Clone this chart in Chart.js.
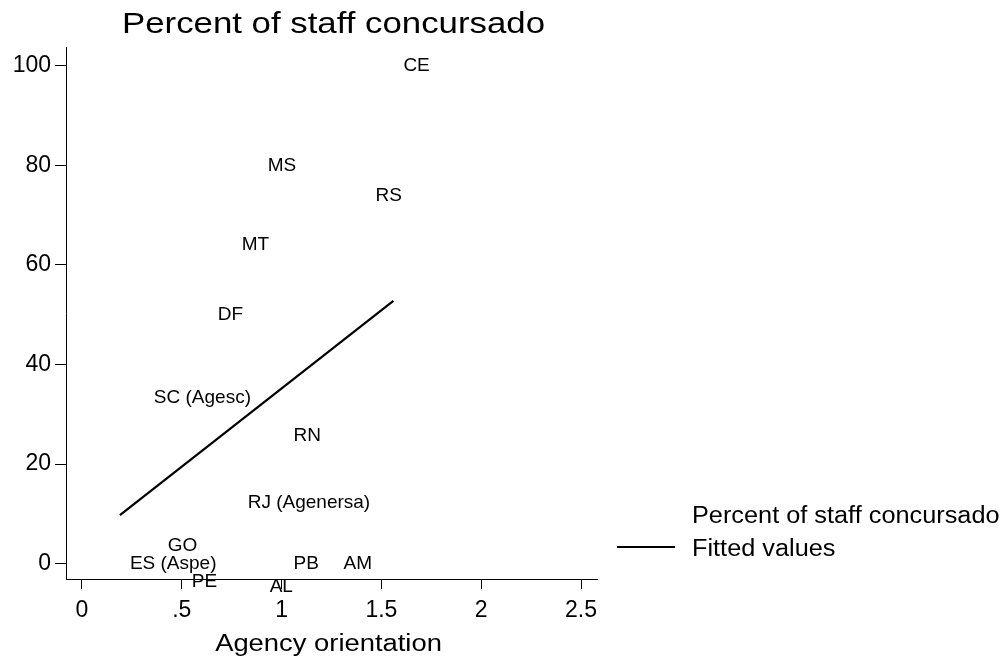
<!DOCTYPE html>
<html>
<head>
<meta charset="utf-8">
<script src="https://cdn.jsdelivr.net/npm/chart.js@4"></script>
<style>
  body { margin: 0; background: #fff; }
  #wrap { width: 1005px; height: 666px; }
</style>
</head>
<body>
<div id="wrap"><canvas id="myChart" width="1005" height="666"></canvas></div>
<script>
// states and their (agency orientation, % staff concursado)
var states = ['CE', 'MS', 'RS', 'MT', 'DF', 'SC (Agesc)', 'RN', 'RJ (Agenersa)', 'GO', 'ES (Aspe)', 'PE', 'PB', 'AM', 'AL'];
var orientation = [1.56, 0.88, 1.42, 0.75, 0.63, 0.31, 1.01, 0.78, 0.38, 0.19, 0.50, 1.01, 1.26, 0.89];
var concursado = [100, 80, 74, 64, 50, 33.3, 25.6, 12.2, 3.5, 0, -3.7, 0, 0, -4.7];

// linear fit, endpoints
var fitX = [0.19, 1.56];
var fitY = [9.75, 52.8];

var xTicks = [0, 0.5, 1, 1.5, 2, 2.5];
var yTicks = [0, 20, 40, 60, 80, 100];

var font = '"Liberation Sans", Arial, sans-serif';

var scatterData = states.map(function (s, i) {
    return { x: orientation[i], y: concursado[i], label: s };
});
var fitData = fitX.map(function (x, i) { return { x: x, y: fitY[i] }; });

// text a bit wider than the font, like the stata export
function wideText(ctx, txt, x, y, sx, align) {
    ctx.save();
    ctx.translate(x, y);
    ctx.scale(sx, 1);
    ctx.textAlign = align;
    ctx.fillText(txt, 0, 0);
    ctx.restore();
}

// marker labels, title, axis title and legend drawn by hand
var stataBits = {
    id: 'stataBits',
    afterDatasetsDraw: function (chart) {
        var ctx = chart.ctx;
        var xs = chart.scales.x, ys = chart.scales.y;
        var ca = chart.chartArea;
        ctx.save();
        ctx.fillStyle = '#000';
        ctx.font = '19px ' + font;
        ctx.textAlign = 'left';
        ctx.textBaseline = 'middle';
        chart.data.datasets[0].data.forEach(function (p) {
            ctx.fillText(p.label, xs.getPixelForValue(p.x) + 10, ys.getPixelForValue(p.y));
        });

        ctx.textBaseline = 'alphabetic';
        // title
        ctx.font = '30px ' + font;
        wideText(ctx, 'Percent of staff concursado', (ca.left + ca.right) / 2 + 2, 33, 1.16, 'center');

        // x axis title
        ctx.font = '23px ' + font;
        wideText(ctx, 'Agency orientation', (ca.left + ca.right) / 2 - 3, 651, 1.19, 'center');

        // legend
        ctx.font = '23px ' + font;
        wideText(ctx, chart.data.datasets[0].label, 692, 523, 1.1, 'left');
        wideText(ctx, chart.data.datasets[1].label, 692, 556, 1.1, 'left');
        ctx.strokeStyle = '#000';
        ctx.lineWidth = 2;
        ctx.beginPath();
        ctx.moveTo(617, 547);
        ctx.lineTo(675, 547);
        ctx.stroke();
        ctx.restore();
    }
};

var ctx = document.getElementById('myChart').getContext('2d');
var myChart = new Chart(ctx, {
    type: 'scatter',
    data: {
        datasets: [{
            label: 'Percent of staff concursado',
            data: scatterData,
            pointRadius: 0,
            showLine: false
        }, {
            label: 'Fitted values',
            data: fitData,
            showLine: true,
            borderColor: '#000',
            borderWidth: 2.2,
            pointRadius: 0,
            fill: false
        }]
    },
    options: {
        responsive: false,
        animation: false,
        layout: { padding: { left: 0, right: 408, top: 47, bottom: 0 } },
        plugins: {
            legend: { display: false },
            title: { display: false },
            tooltip: { enabled: false }
        },
        scales: {
            x: {
                type: 'linear',
                min: -0.08,
                max: 2.58,
                afterBuildTicks: function (scale) {
                    scale.ticks = xTicks.map(function (v) { return { value: v }; });
                },
                afterFit: function (scale) { scale.height = 87; },
                grid: { drawOnChartArea: false, drawTicks: true, tickLength: 10, color: '#000' },
                border: { color: '#000', width: 1 },
                ticks: {
                    color: '#000',
                    padding: 8,
                    maxRotation: 0,
                    font: { family: font, size: 23 },
                    callback: function (v) { return String(v).replace(/^0\./, '.'); }
                }
            },
            y: {
                type: 'linear',
                min: -3.1,
                max: 103.8,
                afterBuildTicks: function (scale) {
                    scale.ticks = yTicks.map(function (v) { return { value: v }; });
                },
                afterFit: function (scale) { scale.width = 66; },
                grid: { drawOnChartArea: false, drawTicks: true, tickLength: 11, color: '#000' },
                border: { color: '#000', width: 1 },
                ticks: {
                    color: '#000',
                    padding: 4,
                    font: { family: font, size: 23 }
                }
            }
        }
    },
    plugins: [stataBits]
});
</script>
</body>
</html>
